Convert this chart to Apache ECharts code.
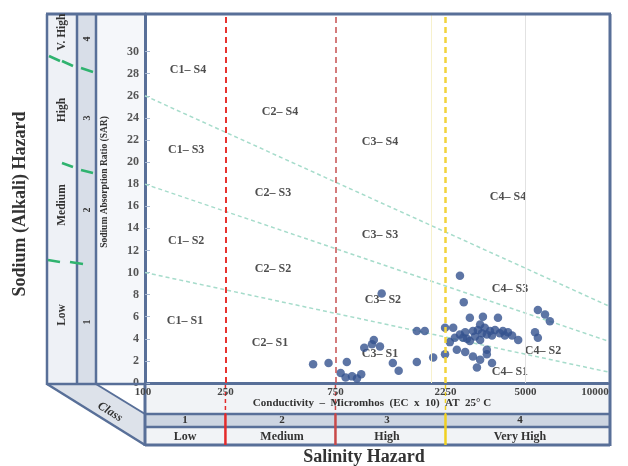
<!DOCTYPE html>
<html>
<head>
<meta charset="utf-8">
<script src="https://cdn.jsdelivr.net/npm/echarts@6/dist/echarts.min.js"></script>
<style>
html, body { margin: 0; padding: 0; background: #fff; }
#main { width: 628px; height: 466px; }
</style>
</head>
<body>
<div id="main"></div>
<script>
// samples: conductivity (micromhos, EC x 10^6) and SAR
var ecValues = [600, 700, 840, 790, 830, 885, 930, 970, 1000, 1100, 1170, 1080, 1190, 1330, 1410,
  1690, 1830, 1690, 1990, 2240, 2240, 2600, 2700, 2870, 3270, 3800, 3180, 5660, 6080, 6380,
  5500, 5660, 4650, 2430, 2350, 2470, 2600, 2740, 2790, 2960, 3020, 3110, 3240, 3330, 3400,
  3510, 3580, 3690, 3870, 3990, 4070, 4200, 4375, 3180, 2870, 2680, 2520, 2740, 2960, 3180,
  3400, 3400, 3580, 3080];
var sarValues = [1.7, 1.8, 1.9, 0.9, 0.5, 0.6, 0.4, 0.8, 3.2, 3.9, 3.3, 3.5, 8.1, 1.8, 1.1,
  4.7, 4.7, 1.9, 2.3, 5.0, 2.6, 9.7, 7.3, 5.9, 6.0, 5.9, 5.3, 6.6, 6.2, 5.6,
  4.6, 4.1, 3.9, 5.0, 3.7, 4.1, 4.4, 4.6, 4.0, 4.7, 4.2, 4.8, 4.5, 5.0, 4.4,
  4.7, 4.3, 4.8, 4.5, 4.7, 4.3, 4.6, 4.3, 3.9, 3.8, 4.1, 3.0, 2.8, 2.4, 2.1,
  3.0, 2.6, 1.8, 1.4];

var sarTicks = [0, 2, 4, 6, 8, 10, 12, 14, 16, 18, 20, 22, 24, 26, 28, 30];
var ecTicks = [100, 250, 750, 2250, 5000, 10000];

// S1/S2, S2/S3, S3/S4 boundaries, read where they meet the left and right edge of the plot
var boundaryEc = [112, 11400];
var boundaryS1 = [10, 1.0];
var boundaryS2 = [18, 3.8];
var boundaryS3 = [26, 7.0];

var zoneNames = ['C1– S4', 'C2– S4', 'C3– S4', 'C4– S4',
  'C1– S3', 'C2– S3', 'C3– S3', 'C4– S3',
  'C1– S2', 'C2– S2', 'C3– S2', 'C4– S2',
  'C1– S1', 'C2– S1', 'C3– S1', 'C4– S1'];
var zoneEc = [172, 431, 1170, 4200, 169, 402, 1170, 4285, 169, 402, 1205, 5957, 167, 390, 1170, 4280];
var zoneSar = [28.3, 24.5, 21.8, 16.8, 21.1, 17.2, 13.4, 8.5, 12.9, 10.3, 7.5, 2.9, 5.6, 3.6, 2.6, 1.0];

var salinityClasses = ['1', '2', '3', '4'];
var salinityNames = ['Low', 'Medium', 'High', 'Very High'];
var sodiumClasses = ['1', '2', '3', '4'];
var sodiumNames = ['Low', 'Medium', 'High', 'V. High'];

var serif = 'Liberation Serif';
var frame = '#586f98';

function pairs(xs, ys) {
  var out = [];
  for (var i = 0; i < xs.length; i++) out.push([xs[i], ys[i]]);
  return out;
}

var zoneData = [];
for (var i = 0; i < zoneNames.length; i++) {
  zoneData.push({ name: zoneNames[i], value: [zoneEc[i], zoneSar[i]] });
}

function boundary(vals) {
  return {
    type: 'line',
    data: pairs(boundaryEc, vals),
    symbol: 'none',
    silent: true,
    z: 1,
    lineStyle: { color: '#a6dccb', width: 1.5, type: [4, 3] }
  };
}

var chart = echarts.init(document.getElementById('main'));

var option = {
  animation: false,
  grid: { left: 145, right: 20, top: 14, bottom: 83, show: true, backgroundColor: '#fff', borderWidth: 0 },
  xAxis: {
    type: 'log',
    min: 112,
    max: 11400,
    axisLine: { show: true, lineStyle: { color: frame, width: 3 } },
    axisTick: { show: false },
    axisLabel: { show: false },
    splitLine: { show: false }
  },
  yAxis: {
    type: 'value',
    min: 0,
    max: 33.4,
    axisLine: { show: true, lineStyle: { color: frame, width: 3 } },
    axisTick: { show: true, inside: true, length: 5, customValues: sarTicks, lineStyle: { color: '#a9b9d2' } },
    axisLabel: {
      customValues: sarTicks,
      color: '#555',
      fontFamily: serif,
      fontWeight: 'bold',
      fontSize: 12,
      margin: 6
    },
    splitLine: { show: false }
  },
  series: [
    boundary(boundaryS1),
    boundary(boundaryS2),
    boundary(boundaryS3),
    {
      type: 'scatter',
      data: zoneData,
      symbolSize: 0,
      silent: true,
      label: {
        show: true,
        position: 'inside',
        formatter: '{b}',
        color: '#222',
        fontFamily: serif,
        fontWeight: 'bold',
        fontSize: 12
      },
      z: 3
    },
    {
      type: 'scatter',
      data: pairs(ecValues, sarValues),
      symbolSize: 8.5,
      itemStyle: { color: '#34528f' },
      z: 4,
      markLine: {
        silent: true,
        symbol: ['none', 'none'],
        label: { show: false },
        data: [
          { xAxis: 250, lineStyle: { color: '#e8332f', width: 2, type: [6, 4] } },
          { xAxis: 750, lineStyle: { color: '#c65050', width: 1.5, type: [6, 4] } },
          { xAxis: 1960, lineStyle: { color: '#f7f1cc', width: 1, type: 'solid' } },
          { xAxis: 2250, lineStyle: { color: '#f2d43c', width: 2.5, type: [6, 4] } },
          { xAxis: 5000, lineStyle: { color: '#e2e2e2', width: 1, type: 'solid' } }
        ]
      }
    }
  ]
};

chart.setOption(option);

// frame, class strips and texts around the plot
function px(v) { return chart.convertToPixel({ gridIndex: 0 }, [v, 1])[0]; }

function line(x1, y1, x2, y2, color, w, dash) {
  return {
    type: 'line', silent: true, z: 10,
    shape: { x1: x1, y1: y1, x2: x2, y2: y2 },
    style: { stroke: color, lineWidth: w, lineDash: dash || null }
  };
}
function rect(x, y, w, h, fill) {
  return { type: 'rect', silent: true, z: -1, shape: { x: x, y: y, width: w, height: h }, style: { fill: fill } };
}
function text(s, x, y, size, rot, extra) {
  var st = {
    text: s, x: 0, y: 0, fill: '#333', font: 'bold ' + size + 'px "' + serif + '"',
    align: 'center', verticalAlign: 'middle'
  };
  if (extra) for (var k in extra) st[k] = extra[k];
  return { type: 'text', silent: true, z: 12, x: x, y: y, rotation: rot || 0, style: st };
}

var g = [];
g.push(rect(47, 14, 30, 370, '#eef1f6'));
g.push(rect(77, 14, 19, 370, '#d8dee8'));
g.push(rect(96, 14, 49, 370, '#f5f7fa'));
g.push(rect(145, 384, 465, 30, '#f1f3f6'));
g.push(rect(145, 414, 465, 13, '#cdd5e1'));
g.push(rect(145, 427, 465, 18, '#f1f3f6'));
g.push({
  type: 'polygon', silent: true, z: -1,
  shape: { points: [[47, 384], [96, 384], [145, 414], [145, 445]] },
  style: { fill: '#dde2ea' }
});

g.push(line(46, 14, 611, 14, frame, 3));
g.push(line(610, 14, 610, 446, frame, 3));
g.push(line(47, 14, 47, 385, frame, 2.5));
g.push(line(77, 14, 77, 385, frame, 2.5));
g.push(line(96, 14, 96, 385, frame, 2.5));
g.push(line(145, 383, 145, 446, frame, 3));
g.push(line(47, 384, 145, 384, frame, 2.5));
g.push(line(145, 414, 610, 414, frame, 2.5));
g.push(line(145, 427, 610, 427, frame, 2.5));
g.push(line(145, 445, 610, 445, frame, 3));
g.push(line(47, 384, 145, 445, frame, 2.5));
g.push(line(96, 384, 145, 414, frame, 2));

// class dividers under the salinity breaks
var breakColors = ['#e42a2a', '#c84848', '#f0d020'];
[250, 750, 2250].forEach(function (v, i) {
  var x = px(v);
  g.push(line(x, 385, x, 414, breakColors[i], 1.5, [4, 3]));
  g.push(line(x, 414, x, 445, breakColors[i], 2.5));
});

// sodium hazard class marks on the left strip
var green = '#2fb36f';
[[49, 56, 60, 61], [62, 61, 73, 66], [81, 68, 93, 72],
 [62, 163, 73, 167], [81, 170, 93, 173],
 [48, 260, 60, 262], [70, 262, 83, 264]].forEach(function (s) {
  g.push(line(s[0], s[1], s[2], s[3], green, 2.5));
});

// x tick labels
ecTicks.forEach(function (v) {
  var x = Math.max(px(v), 143);
  g.push(text(String(v), x, 392, 11, 0, { fill: '#444' }));
});
g.push(text('Conductivity  –  Micromhos  (EC  x  10)  AT  25° C', 372, 403, 11, 0));

var salX = [185, 282, 387, 520];
salinityClasses.forEach(function (s, i) { g.push(text(s, salX[i], 420.5, 11, 0)); });
salinityNames.forEach(function (s, i) { g.push(text(s, salX[i], 436.5, 12, 0)); });

var sodY = [322, 210, 118, 39];
var sodNameY = [315, 205, 110, 32];
sodiumClasses.forEach(function (s, i) { g.push(text(s, 87, sodY[i], 10, Math.PI / 2)); });
sodiumNames.forEach(function (s, i) { g.push(text(s, 62, sodNameY[i], 11.5, Math.PI / 2)); });

g.push(text('Sodium Absorption Ratio (SAR)', 105, 182, 9.5, Math.PI / 2));
g.push(text('Sodium (Alkali) Hazard', 20, 204, 18, Math.PI / 2));
g.push(text('Salinity Hazard', 364, 457, 18, 0));
g.push(text('Class', 110, 412, 12, -0.556, { font: 'italic bold 12px "' + serif + '"' }));

chart.setOption({ graphic: { elements: g } });
</script>
</body>
</html>
